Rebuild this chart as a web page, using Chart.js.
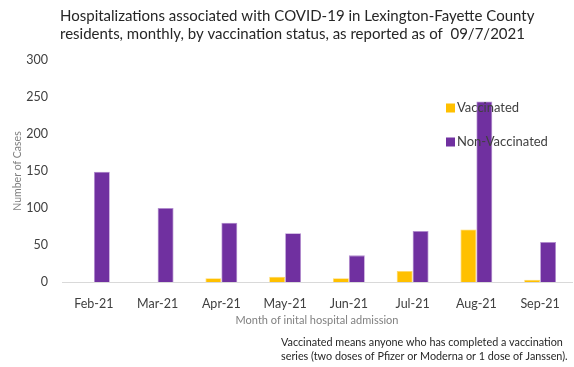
<!DOCTYPE html>
<html>
<head>
<meta charset="utf-8">
<script src="https://cdn.jsdelivr.net/npm/chart.js@4.4.0/dist/chart.umd.min.js"></script>
<style>
  html, body { margin: 0; padding: 0; background: #ffffff; }
  #wrap { width: 574px; height: 367px; position: relative; }
</style>
</head>
<body>
<div id="wrap"><canvas id="hospChart"></canvas></div>
<script>
// 차트 데이터
const months = ['Feb-21', 'Mar-21', 'Apr-21', 'May-21', 'Jun-21', 'Jul-21', 'Aug-21', 'Sep-21'];
const vaccinated = [0, 0, 5, 7, 5, 15, 71, 3];
const nonVaccinated = [149, 100, 80, 66, 36, 69, 244, 54];
const yTicks = [0, 50, 100, 150, 200, 250, 300];

const titleLines = [
    'Hospitalizations associated with COVID-19 in Lexington-Fayette County',
    'residents, monthly, by vaccination status, as reported as of  09/7/2021'
];
const noteLines = [
    'Vaccinated means anyone who has completed a vaccination',
    'series (two doses of Pfizer or Moderna or 1 dose of Janssen).'
];

const FONT = 'Lato, "Open Sans", sans-serif';

// 제목, 범례, 주석을 직접 그리는 플러그인
const textPlugin = {
    id: 'textPlugin',
    afterDraw(chart) {
        const ctx = chart.ctx;
        ctx.save();
        ctx.textBaseline = 'middle';
        ctx.textAlign = 'left';

        // 제목
        ctx.fillStyle = '#262626';
        ctx.font = '15px ' + FONT;
        ctx.fillText(titleLines[0], 60, 16);
        ctx.fillText(titleLines[1], 60, 34);

        // 범례 (차트 영역 안쪽)
        ctx.font = '13px ' + FONT;
        chart.data.datasets.forEach((ds, i) => {
            const y = 108 + i * 34;
            ctx.fillStyle = ds.backgroundColor;
            ctx.fillRect(446, y - 4.5, 9, 9);
            ctx.fillStyle = '#404040';
            ctx.fillText(ds.label, 457, y);
        });

        // 주석
        ctx.fillStyle = '#262626';
        ctx.font = '10.8px ' + FONT;
        ctx.fillText(noteLines[0], 281, 343);
        ctx.fillText(noteLines[1], 281, 357);
        ctx.restore();
    }
};

const ctx = document.getElementById('hospChart').getContext('2d');
window.hospChart = new Chart(ctx, {
    type: 'bar',
    data: {
        labels: months,
        datasets: [{
            label: 'Vaccinated',
            data: vaccinated,
            backgroundColor: '#FFC000',
            borderColor: '#FFD966',
            borderWidth: 0.8
        }, {
            label: 'Non-Vaccinated',
            data: nonVaccinated,
            backgroundColor: '#7030A0',
            borderColor: '#B48ED0',
            borderWidth: 0.8
        }]
    },
    options: {
        responsive: true,
        maintainAspectRatio: false,
        animation: false,
        layout: { padding: { top: 60, left: 0, right: 2, bottom: 40 } },
        datasets: {
            bar: { barPercentage: 1.0, categoryPercentage: 0.5 }
        },
        plugins: {
            legend: { display: false },
            title: { display: false },
            tooltip: { enabled: false }
        },
        scales: {
            x: {
                grid: { display: true, drawOnChartArea: false, drawTicks: false, color: '#d9d9d9' },
                border: { display: true, color: '#d9d9d9', width: 1 },
                ticks: {
                    padding: 14,
                    color: '#404040',
                    font: { family: FONT, size: 12.5 }
                },
                title: {
                    display: true,
                    text: 'Month of inital hospital admission',
                    color: '#808080',
                    padding: 0,
                    font: { family: FONT, size: 11 }
                },
                afterFit: function(scale) { scale.height = 45; }
            },
            y: {
                min: 0,
                max: 300,
                afterBuildTicks: function(scale) {
                    scale.ticks = yTicks.map(v => ({ value: v }));
                },
                grid: { display: false, drawTicks: false },
                border: { display: false },
                ticks: {
                    padding: 14,
                    color: '#404040',
                    font: { family: FONT, size: 12.5 }
                },
                title: {
                    display: true,
                    text: 'Number of Cases',
                    color: '#808080',
                    padding: { top: 11, bottom: 0 },
                    font: { family: FONT, size: 10.5 }
                },
                afterFit: function(scale) { scale.width = 62; }
            }
        }
    },
    plugins: [textPlugin]
});
</script>
</body>
</html>
